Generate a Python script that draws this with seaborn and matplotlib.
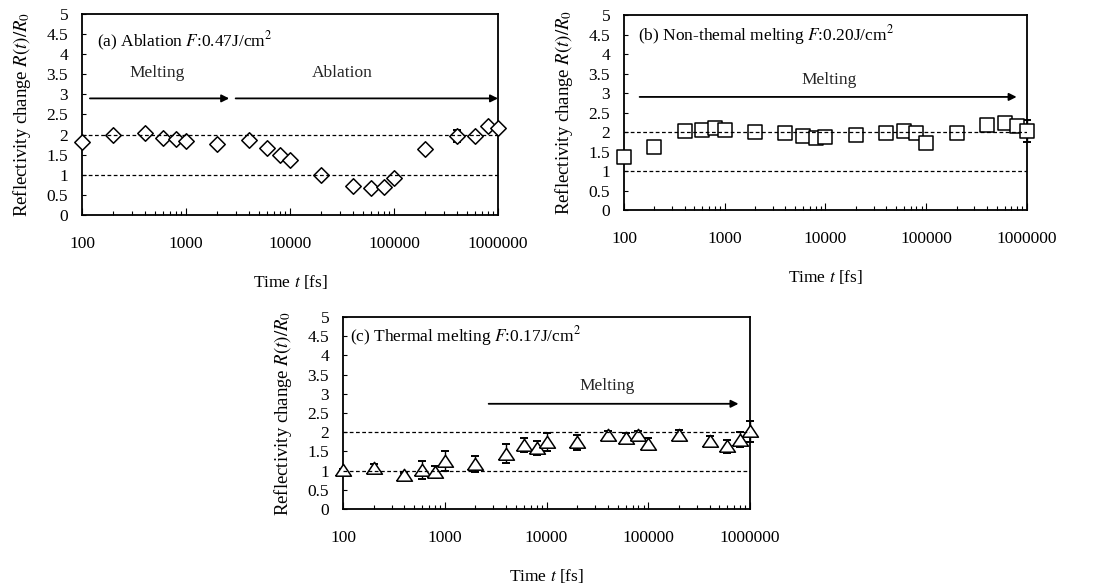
import matplotlib
matplotlib.use("Agg")
import matplotlib.pyplot as plt
import seaborn as sns
import numpy as np
import pandas as pd
from matplotlib.ticker import FixedLocator, FuncFormatter, LogLocator, NullFormatter

# ---------------- data ----------------
time_fs = [100, 200, 400, 600, 800, 1000, 2000, 4000, 6000, 8000, 10000,
           20000, 40000, 60000, 80000, 100000, 200000, 400000, 600000, 800000, 1000000]

ablation = [1.82, 1.99, 2.05, 1.92, 1.89, 1.85, 1.77, 1.87, 1.67, 1.48, 1.37,
            0.99, 0.73, 0.68, 0.70, 0.91, 1.63, 1.97, 1.97, 2.22, 2.16]
ablation_err = [0.04, 0.04, 0.04, 0.04, 0.04, 0.04, 0.04, 0.04, 0.04, 0.04, 0.04,
                0.04, 0.04, 0.04, 0.04, 0.04, 0.04, 0.15, 0.04, 0.04, 0.04]

nonthermal = [1.37, 1.62, 2.03, 2.05, 2.11, 2.05, 2.01, 1.97, 1.91, 1.84, 1.86,
              1.93, 1.97, 2.03, 1.98, 1.71, 1.97, 2.18, 2.22, 2.15, 2.03]
nonthermal_err = [0.04, 0.04, 0.04, 0.04, 0.04, 0.04, 0.04, 0.04, 0.04, 0.04, 0.04,
                  0.04, 0.04, 0.04, 0.04, 0.04, 0.04, 0.04, 0.04, 0.04, 0.28]

thermal = [1.01, 1.07, 0.88, 1.02, 0.96, 1.24, 1.17, 1.44, 1.66, 1.59, 1.74,
           1.74, 1.92, 1.85, 1.92, 1.69, 1.92, 1.78, 1.63, 1.81, 2.02]
thermal_err = [0.04, 0.10, 0.06, 0.24, 0.15, 0.26, 0.20, 0.25, 0.18, 0.18, 0.24,
               0.20, 0.10, 0.14, 0.12, 0.15, 0.15, 0.12, 0.18, 0.20, 0.28]

panel_titles = [r"(a) Ablation $F$:0.47J/cm$^2$",
                r"(b) Non-themal melting $F$:0.20J/cm$^2$",
                r"(c) Thermal melting $F$:0.17J/cm$^2$"]
y_ticks = [0, 0.5, 1, 1.5, 2, 2.5, 3, 3.5, 4, 4.5, 5]
x_ticks = [100, 1000, 10000, 100000, 1000000]
x_tick_labels = ["100", "1000", "10000", "100000", "1000000"]

# ---------------- style ----------------
sns.set_theme(style="ticks")
plt.rcParams["font.family"] = ["Liberation Serif", "DejaVu Serif"]
plt.rcParams["mathtext.fontset"] = "stix"

FS = 12.5
FS_Y = 13.5
fig = plt.figure(figsize=(11.04, 5.85), dpi=100)
fig.patch.set_facecolor("white")

positions = [
    [0.0743, 0.6325, 0.3768, 0.3436],
    [0.5652, 0.6410, 0.3650, 0.3333],
    [0.3107, 0.1299, 0.3687, 0.3282],
]

tri = [(-1, -0.72), (1, -0.72), (0, 0.78), (-1, -0.72)]
markers = ["D", "s", tri]
sizes = [62, 110, 130]
series = [ablation, nonthermal, thermal]
errs = [ablation_err, nonthermal_err, thermal_err]


def setup_axis(ax):
    ax.set_xscale("log")
    ax.set_xlim(100, 1000000)
    ax.set_ylim(0, 5)
    ax.yaxis.set_major_locator(FixedLocator(y_ticks))
    ax.yaxis.set_major_formatter(FuncFormatter(lambda v, p: f"{v:g}"))
    ax.xaxis.set_major_locator(FixedLocator(x_ticks))
    ax.set_xticklabels(x_tick_labels)
    ax.xaxis.set_minor_locator(LogLocator(base=10, subs=np.arange(2, 10)))
    ax.xaxis.set_minor_formatter(NullFormatter())
    ax.tick_params(axis="both", which="both", direction="in", colors="black",
                   labelsize=FS, width=0.8)
    ax.tick_params(axis="x", which="major", length=5, pad=15)
    ax.tick_params(axis="x", which="minor", length=3)
    ax.tick_params(axis="y", which="major", length=3, pad=10)
    for sp in ax.spines.values():
        sp.set_visible(True)
        sp.set_color("black")
        sp.set_linewidth(1.3)
    ax.set_facecolor("white")
    for yy in (1, 2):
        ax.axhline(yy, color="black", lw=0.9, ls=(0, (3, 2)), zorder=4)


axes = []
for i in range(3):
    ax = fig.add_axes(positions[i])
    setup_axis(ax)
    df = pd.DataFrame({"t": time_fs, "r": series[i], "e": errs[i]})
    ax.errorbar(df["t"], df["r"], yerr=df["e"], fmt="none", ecolor="black",
                elinewidth=1.0, capsize=3, capthick=1.4, zorder=2, clip_on=False)
    sns.scatterplot(data=df, x="t", y="r", marker=markers[i], s=sizes[i],
                    facecolor="white", edgecolor="black", linewidth=1.1,
                    ax=ax, zorder=3, clip_on=False, legend=False)
    ax.set_xlabel(r"Time $t$ [fs]", fontsize=FS, labelpad=15, color="black")
    ax.set_ylabel(r"Reflectivity change $R(t)/R_0$", fontsize=FS_Y, labelpad=10, color="black")
    ax.text(0.035 if i < 2 else 0.018, 0.865 if i == 0 else 0.9, panel_titles[i],
            transform=ax.transAxes, fontsize=FS, ha="left", va="center", color="black")
    axes.append(ax)

arrow_kw = dict(arrowstyle="-|>", color="black", lw=1.3, mutation_scale=11,
                shrinkA=0, shrinkB=0)

# panel (a)
ax = axes[0]
ax.annotate("", xy=(2600, 2.9), xytext=(119, 2.9), arrowprops=arrow_kw)
ax.annotate("", xy=(1000000, 2.9), xytext=(3000, 2.9), arrowprops=arrow_kw)
ax.text(525, 3.54, "Melting", fontsize=FS, ha="center", va="center")
ax.text(31600, 3.54, "Ablation", fontsize=FS, ha="center", va="center")

# panel (b)
ax = axes[1]
ax.annotate("", xy=(790000, 2.9), xytext=(143, 2.9), arrowprops=arrow_kw)
ax.text(11000, 3.33, "Melting", fontsize=FS, ha="center", va="center")

# panel (c)
ax = axes[2]
ax.annotate("", xy=(770000, 2.74), xytext=(2700, 2.74), arrowprops=arrow_kw)
ax.text(39000, 3.21, "Melting", fontsize=FS, ha="center", va="center")

fig.savefig("out.png", dpi=100, facecolor="white")
